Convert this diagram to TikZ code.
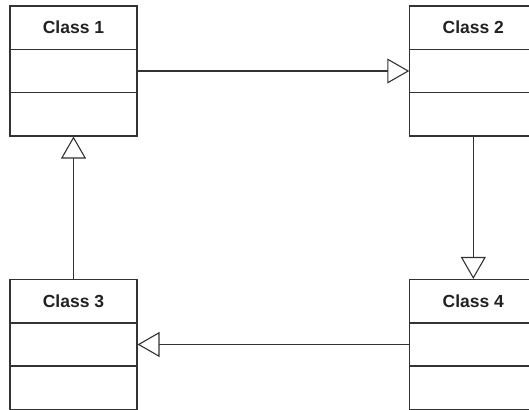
\documentclass[tikz,border=0pt]{standalone}
\usepackage{fontspec}
\setmainfont{Liberation Sans}
\usetikzlibrary{arrows.meta}
\definecolor{ln}{HTML}{333333}
\definecolor{tx}{HTML}{222222}
\begin{document}
\begin{tikzpicture}[x=1pt,y=-1pt,
  classbox/.style={draw=ln, line width=1.1pt, minimum width=127pt, minimum height=130pt, inner sep=0pt, fill=white},
  classname/.style={font=\bfseries\fontsize{17.5}{20}\selectfont, text=tx, inner sep=0pt},
  divider/.style={draw=ln, line width=1.1pt},
  gen/.style={draw=ln, line width=1.1pt, -{Triangle[open, length=22pt, width=25pt, line width=1.1pt]}}]
\useasboundingbox (0,0) rectangle (529,409);
\node[classbox] (c1) at (73.5,71) {};
\node[classbox] (c2) at (473.3,71) {};
\node[classbox] (c3) at (73.5,344.5) {};
\node[classbox] (c4) at (473.3,344.5) {};
\foreach \c/\t in {c1/Class 1, c2/Class 2, c3/Class 3, c4/Class 4}{
  \node[classname] (\c t) at ([yshift=-22pt]\c.north) {\t};
  \draw[divider] ([yshift=-44pt]\c.north west) -- ([yshift=-44pt]\c.north east);
  \draw[divider] ([yshift=-87pt]\c.north west) -- ([yshift=-87pt]\c.north east);
}
\draw[gen] (c1.east) -- (c2.west);
\draw[gen] (c2.south) -- (c4.north);
\draw[gen] (c4.west) -- (c3.east);
\draw[gen] (c3.north) -- (c1.south);
\end{tikzpicture}
\end{document}
